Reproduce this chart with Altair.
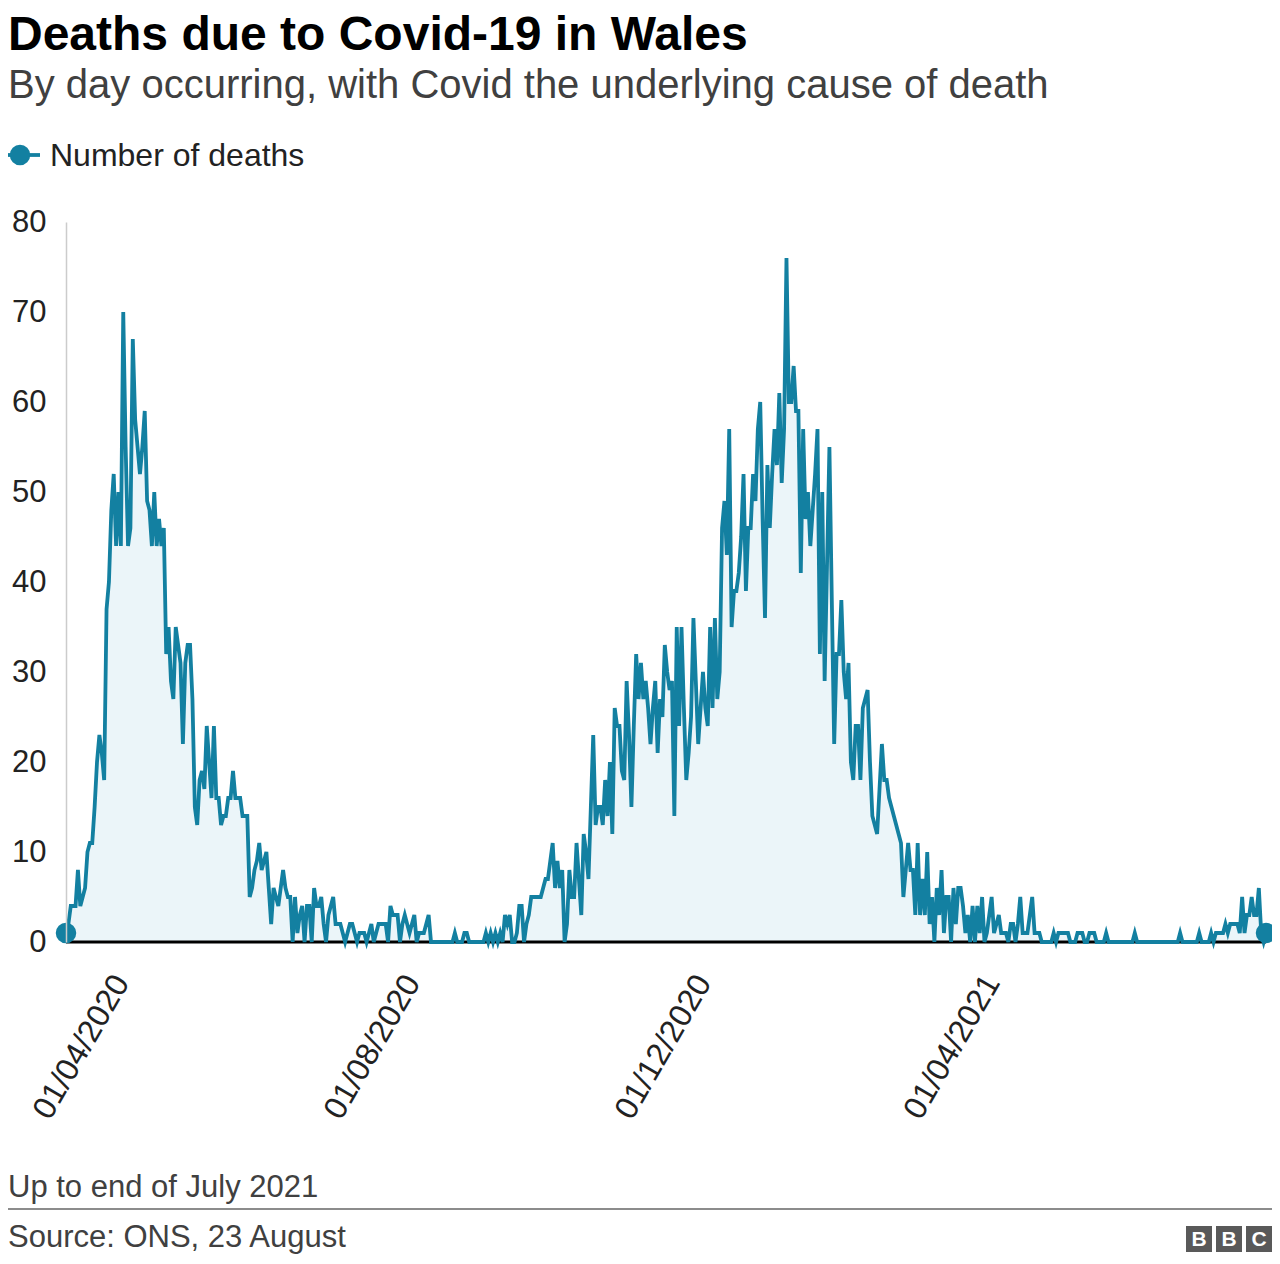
import altair as alt
import pandas as pd

# ---- data (daily deaths, one value per day) ----
start_date = "2020-03-09"

wave1 = [1, 2, 4, 4, 4, 8, 4, 5, 6, 10,
         11, 11, 15, 20, 23, 21, 18, 37, 40, 48,
         52, 44, 50, 44, 70, 55, 44, 46, 67, 58,
         55, 52, 55, 59, 49, 48, 44, 50, 44, 47,
         44, 46, 32, 35, 29, 27, 35, 33, 31, 22,
         31, 33, 33, 27, 15, 13, 18, 19, 17, 24,
         20, 16, 24, 16, 16, 13, 14, 14, 16, 16,
         19, 16]

summer_a = [16, 16, 14, 14, 14, 5, 6, 8, 9, 11,
            8, 9, 10, 6, 2, 6, 5, 4, 6, 8,
            6, 5, 5, 0, 5, 1, 3, 4, 0, 4,
            4, 0, 6, 4, 4, 5, 2, 0, 3, 4,
            5, 2, 2, 2, 1, 0, 1, 2, 2, 1,
            0, 1, 1, 1, 0, 1, 2, 0, 1, 2,
            2, 2, 2, 0, 4, 3, 3, 3, 0, 2,
            3, 2, 1, 2, 3, 0, 1, 1, 1]

summer_b = [2, 3, 0, 0, 0, 0, 0, 0, 0, 0,
            0, 0, 1, 0, 0, 0, 1, 1, 0, 0,
            0, 0, 0, 0, 0, 1, 0, 1, 0, 1,
            0, 1, 0, 3, 2, 3, 0, 0, 1, 4,
            4, 0, 2, 3, 5, 5, 5, 5]

autumn = [5, 6, 7, 7, 9, 11, 6, 9, 6, 8,
          0, 2, 8, 5, 5, 11, 7, 3, 12, 10,
          7, 15, 23, 13, 15, 15, 13, 18, 14, 20,
          12, 26, 24, 24, 19, 18, 29, 23, 15, 24,
          32, 27, 31, 27, 29, 26, 22, 26, 29, 21,
          27, 25, 33, 30, 28, 29, 14, 35, 24, 35,
          26, 18, 21, 25, 36, 29, 22, 26, 30, 26,
          24, 35, 26, 36, 27, 30]

winter = [46, 49, 43, 57, 35, 39, 39, 41, 45, 52,
          39, 46, 46, 52, 49, 57, 60, 47, 36, 53,
          46, 52, 57, 53, 61, 51, 57, 76, 60, 60,
          64, 59, 59, 41, 57, 47, 50, 44, 48, 52,
          57, 32, 50, 29, 42, 55, 38, 22, 32, 32,
          38, 30, 27, 31, 20, 18, 24]

decline = [24, 18, 26, 27, 28, 20, 14, 13, 12, 17,
           22, 18, 18, 16, 15, 14, 13, 12, 11, 5,
           8, 11, 8, 8, 3, 11, 3, 7, 3, 10,
           2, 5, 0, 6, 3, 8, 1, 5, 5, 0,
           6, 2, 6, 6]

spring = [4, 1, 3, 0, 4, 0, 4, 1, 5, 0,
          1, 3, 5, 1, 2, 3, 1, 1, 1, 0,
          2, 2, 0, 2, 5, 1, 1, 1, 3, 5,
          1, 1, 1, 0, 0, 0, 0, 0, 1, 0,
          1, 1, 1, 1, 1, 0, 0, 0, 1, 1,
          1, 0, 0, 1, 1, 1, 0, 0, 0, 0,
          1, 0]

summer21 = [0, 0, 0, 0, 0, 0, 0, 0, 0, 0,
            1, 0, 0, 0, 0, 0, 0, 0, 0, 0,
            0, 0, 0, 0, 0, 0, 0, 0, 0, 1,
            0, 0, 0, 0, 0, 0, 0, 1, 0, 0,
            0, 0, 1, 0, 1, 1, 1, 1, 2, 1,
            2, 2, 2, 2, 1, 5, 1, 3, 3, 5,
            3, 3, 6, 1, 0, 1]

tick_dates = ["2020-04-01", "2020-08-01", "2020-12-01", "2021-04-01"]
y_ticks = [0, 10, 20, 30, 40, 50, 60, 70, 80]

deaths = wave1 + summer_a + summer_b + autumn + winter + decline + spring + summer21
dates = pd.date_range(start_date, periods=len(deaths), freq="D")
df = pd.DataFrame({"date": dates.strftime("%Y-%m-%d"), "deaths": deaths})
ends = df.iloc[[0, len(df) - 1]]


def ms(d):
    return int(pd.Timestamp(d, tz="UTC").value // 10**6)


TEAL = "#1380A1"
FONT = "Liberation Sans"
W, H = 1200, 720

x_enc = alt.X(
    "date:T",
    scale=alt.Scale(type="utc", domain=[ms(dates[0]), ms(dates[-1])], nice=False),
    axis=alt.Axis(
        values=[ms(d) for d in tick_dates],
        labelExpr="utcFormat(datum.value, '%d/%m/%Y')",
        labelAngle=-60, labelAlign="right", labelBaseline="middle",
        labelFontSize=32, labelFont=FONT, labelColor="#222222",
        labelPadding=35, ticks=False, domain=False, grid=False, title=None,
        labelOverlap=False, labelFlush=False,
    ),
)
y_enc = alt.Y(
    "deaths:Q",
    scale=alt.Scale(domain=[0, 80], nice=False),
    axis=alt.Axis(
        values=y_ticks, labelFontSize=31, labelFont=FONT, labelColor="#222222",
        ticks=False, domainColor="#cccccc", domainWidth=1.5, grid=False,
        labelPadding=20, title=None, zindex=1,
    ),
)

area = alt.Chart(df).mark_area(color="#EBF5F9", opacity=1).encode(x=x_enc, y=y_enc)
line = alt.Chart(df).mark_line(color=TEAL, strokeWidth=3.8).encode(x=x_enc, y=y_enc)
dots = alt.Chart(ends).mark_circle(color=TEAL, opacity=1, size=420).encode(x=x_enc, y=y_enc)

one = pd.DataFrame({"k": [0]})
baseline = alt.Chart(one).mark_rule(color="black", strokeWidth=3).encode(y=alt.datum(0))


def txt(text, x, y, size, color="#222222", weight="normal", align="left"):
    return alt.Chart(one).mark_text(
        text=text, align=align, baseline="alphabetic", fontSize=size,
        fontWeight=weight, font=FONT, color=color,
    ).encode(x=alt.value(x), y=alt.value(y))


title = txt("Deaths due to Covid-19 in Wales", -58, -172, 48, "#000000", "bold")
subtitle = txt("By day occurring, with Covid the underlying cause of death", -58, -124, 40, "#404040")
leg_line = alt.Chart(one).mark_rule(color=TEAL, strokeWidth=3.8).encode(
    x=alt.value(-58), x2=alt.value(-26), y=alt.value(-67))
leg_dot = alt.Chart(one).mark_circle(color=TEAL, opacity=1, size=420).encode(
    x=alt.value(-46), y=alt.value(-67))
leg_txt = txt("Number of deaths", -16, -56, 32)
note = txt("Up to end of July 2021", -58, 975, 31, "#404040")
sep = alt.Chart(one).mark_rule(color="#8c8c8c", strokeWidth=2).encode(
    x=alt.value(-58), x2=alt.value(1206), y=alt.value(987))
source = txt("Source: ONS, 23 August", -58, 1025, 31, "#404040")

logo_layers = []
for i, letter in enumerate(["B", "B", "C"]):
    x0 = 1120 + i * 30
    logo_layers.append(
        alt.Chart(one).mark_rect(color="#595959").encode(
            x=alt.value(x0), x2=alt.value(x0 + 26), y=alt.value(1004), y2=alt.value(1030)))
    logo_layers.append(
        alt.Chart(one).mark_text(text=letter, fontSize=21, fontWeight="bold", font=FONT,
                                 color="white", align="center", baseline="middle").encode(
            x=alt.value(x0 + 13), y=alt.value(1018)))

chart = alt.layer(
    area, baseline, line, dots,
    title, subtitle, leg_line, leg_dot, leg_txt, note, sep, source, *logo_layers,
).properties(
    width=W, height=H,
    background="white",
    autosize=alt.AutoSizeParams(type="none"),
    padding={"left": 58, "top": 214, "right": 6, "bottom": 314},
).configure_view(stroke="transparent", strokeWidth=0)

chart.save("out.html", embed_options={"renderer": "svg", "actions": False})
